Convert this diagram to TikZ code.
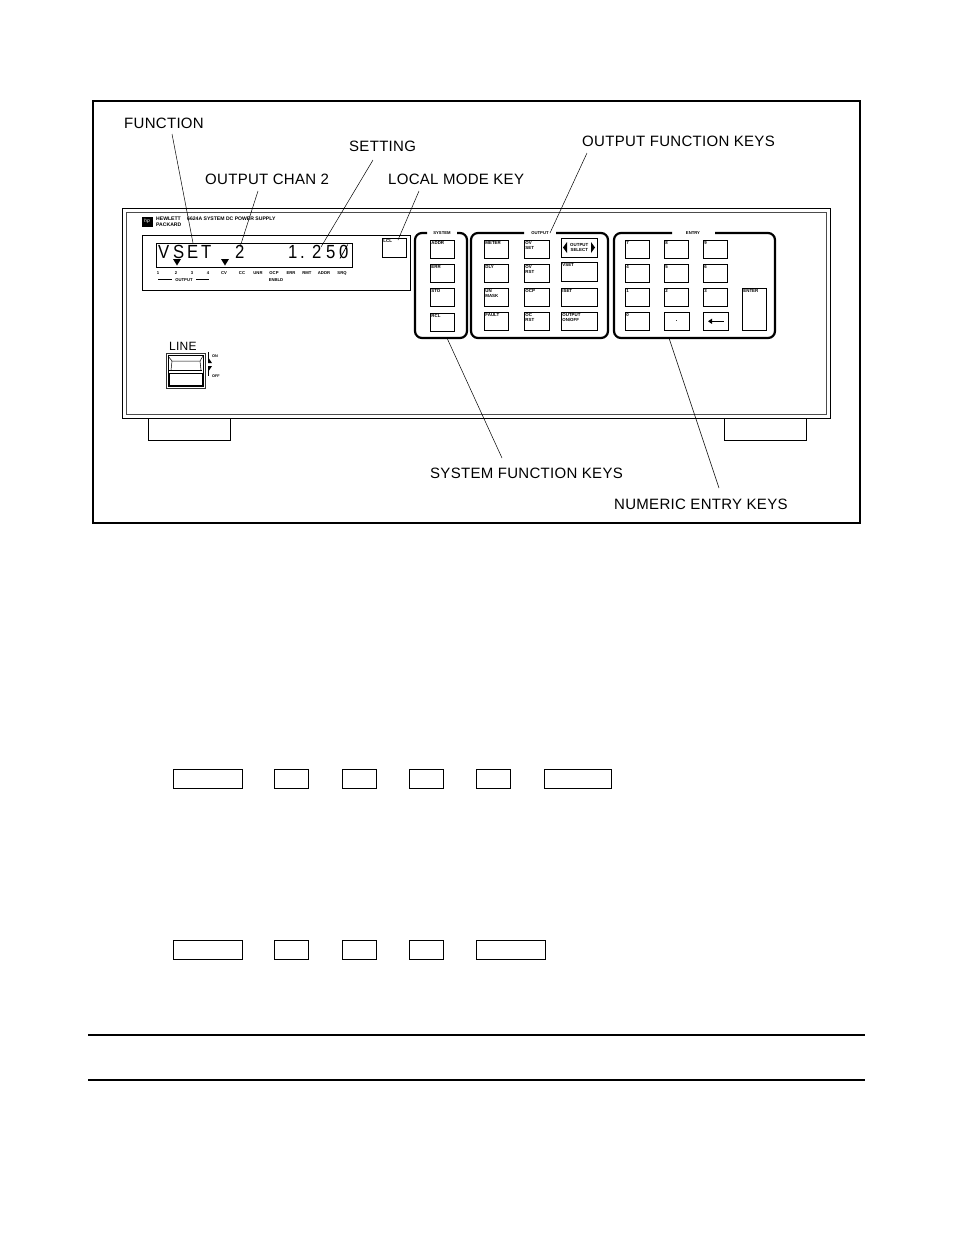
\documentclass[tikz,border=0pt]{standalone}
\usepackage{fontspec}
\setmainfont{Liberation Sans}
\newfontfamily\callfont[LetterSpace=2]{Liberation Sans}
\newfontfamily\dispfont[FakeStretch=0.88]{Liberation Sans}
\usetikzlibrary{arrows.meta}
\tikzset{
 callout/.style={font=\callfont\fontsize{15}{15}\selectfont, anchor=base west, inner sep=0},
 leader/.style={line width=0.5pt},
 pkey/.style={draw, line width=0.55pt, inner sep=0, anchor=north west},
 klbl/.style={font=\bfseries\fontsize{4.4}{4.8}\selectfont, inner sep=1.2pt, anchor=north west, align=left},
 annun/.style={font=\bfseries\fontsize{4.2}{4.2}\selectfont, inner sep=0, anchor=base},
 grp/.style={line width=2.2pt, rounded corners=7pt},
 grplbl/.style={font=\bfseries\fontsize{4.2}{4.2}\selectfont, inner sep=0, anchor=base},
 blank/.style={draw, line width=1.1pt, inner sep=0, anchor=north west, minimum height=19},
 dispch/.style={font=\dispfont\fontsize{19}{19}\selectfont, inner sep=0, anchor=base west},
 small/.style={font=\bfseries\fontsize{5.1}{5.6}\selectfont, inner sep=0, anchor=north west, align=left},
}
\begin{document}
\begin{tikzpicture}[x=1pt,y=-1pt]
\useasboundingbox (0,0) rectangle (954,1235);
% outer frame
\draw[line width=1.8pt] (93,101) rectangle (860,523);

% callout texts
\node[callout] (tfunc) at (124,128) {FUNCTION};
\node[callout] (tchan) at (205,184) {OUTPUT CHAN 2};
\node[callout] (tset) at (349,151) {SETTING};
\node[callout] (tlcl) at (388,184) {LOCAL MODE KEY};
\node[callout] (tofk) at (582,146) {OUTPUT FUNCTION KEYS};
\node[callout] (tsfk) at (430,478) {SYSTEM FUNCTION KEYS};
\node[callout] (tnek) at (614,509) {NUMERIC ENTRY KEYS};

% panel
\draw[line width=0.7pt] (122,208) rectangle (830,418);
\draw[line width=0.45pt, black!70] (126,212) rectangle (826,414);
\draw[line width=0.6pt] (148,418) -- (148,440) -- (230,440) -- (230,418);
\draw[line width=0.6pt] (724,418) -- (724,440) -- (806,440) -- (806,418);

% header
\node[fill=black, minimum width=11, minimum height=10, inner sep=0, text=white, font=\itshape\fontsize{5}{5}\selectfont] (logo) at (147,221.5) {hp};
\node[small] (hpname) at (156,217) {HEWLETT\\PACKARD};
\node[small] (model) at (187,217) {6624A SYSTEM DC POWER SUPPLY};

% display
\draw[line width=0.6pt] (142,235) rectangle (410,290);
\draw[line width=0.5pt] (156,243) rectangle (352,267);
\node[dispch] (dV) at (158,258) {V};
\node[dispch] (dS) at (173,258) {S};
\node[dispch] (dE) at (187,258) {E};
\node[dispch] (dT) at (201,258) {T};
\node[dispch] (dch) at (235,258) {2};
\node[dispch] (d1) at (288,258) {1};
\node[dispch] (dpt) at (300,258) {.};
\node[dispch] (d2) at (312,258) {2};
\node[dispch] (d5) at (326,258) {5};
\node[dispch] (d0) at (339,258) {0};
\draw[line width=0.7pt] ([xshift=1pt]d0.south west) -- ([xshift=-1pt]d0.north east);
\fill (173,259) -- (181,259) -- (177,265.5) -- cycle;
\fill (221,259) -- (229,259) -- (225,265.5) -- cycle;
\foreach \t/\x in {1/158,2/176,3/192,4/208,CV/224,CC/242,UNR/258,OCP/274,ERR/291,RMT/307,ADDR/324,SRQ/342}
  \node[annun] (an\t) at (\x,274) {\t};
\draw[line width=0.4pt] (158,279.5) -- (172,279.5);
\node[annun] (anout) at (184,281) {OUTPUT};
\draw[line width=0.4pt] (196,279.5) -- (209,279.5);
\node[annun] (anenb) at (276,281) {ENBLD};

% LCL key
\node[pkey, minimum width=24, minimum height=19, label={[klbl]north west:LCL}] (klcl) at (382,238) {};

% groups
\draw[grp] (457,233) -| (467,338) -| (415,233) -- (427,233);
\node[grplbl] (lsys) at (442,234.5) {SYSTEM};
\draw[grp] (556,233) -| (608,338) -| (471,233) -- (524,233);
\node[grplbl] (lout) at (540,234.5) {OUTPUT};
\draw[grp] (715,233) -| (775,338) -| (614,233) -- (672,233);
\node[grplbl] (lent) at (693,234.5) {ENTRY};

% system keys
\foreach \n/\y/\t in {kaddr/240/ADDR,kerr/264/ERR,ksto/288/STO,krcl/313/RCL}
  \node[pkey, minimum width=24, minimum height=18, label={[klbl]north west:\t}] (\n) at (430,\y) {};

% output keys
\node[pkey, minimum width=24, minimum height=18, label={[klbl]north west:METER}] (kmeter) at (484,240) {};
\node[pkey, minimum width=25, minimum height=18, label={[klbl]north west:OV\\SET}] (kovset) at (524,240) {};
\node[pkey, minimum width=36, minimum height=19, font=\bfseries\fontsize{4.4}{4.8}\selectfont, align=center] (kosel) at (561,238) {OUTPUT\\SELECT};
\fill (567,242) -- (563,247.5) -- (567,253) -- cycle;
\fill (591,242) -- (595,247.5) -- (591,253) -- cycle;
\node[pkey, minimum width=24, minimum height=18, label={[klbl]north west:DLY}] (kdly) at (484,264) {};
\node[pkey, minimum width=25, minimum height=18, label={[klbl]north west:OV\\RST}] (kovrst) at (524,264) {};
\node[pkey, minimum width=36, minimum height=19, label={[klbl]north west:VSET}] (kvset) at (561,262) {};
\node[pkey, minimum width=24, minimum height=18, label={[klbl]north west:UN\\MASK}] (kunmask) at (484,288) {};
\node[pkey, minimum width=25, minimum height=18, label={[klbl]north west:OCP}] (kocp) at (524,288) {};
\node[pkey, minimum width=36, minimum height=18, label={[klbl]north west:ISET}] (kiset) at (561,288) {};
\node[pkey, minimum width=24, minimum height=18, label={[klbl]north west:FAULT}] (kfault) at (484,312) {};
\node[pkey, minimum width=25, minimum height=18, label={[klbl]north west:OC\\RST}] (kocrst) at (524,312) {};
\node[pkey, minimum width=36, minimum height=18, label={[klbl]north west:OUTPUT\\ON/OFF}] (konoff) at (561,312) {};

% entry keys
\foreach \n/\x/\y/\t in {k7/625/240/7,k8/664/240/8,k9/703/240/9,k4/625/264/4,k5/664/264/5,k6/703/264/6,k1/625/288/1,k2/664/288/2,k3/703/288/3,kzero/625/312/0}
  \node[pkey, minimum width=24, minimum height=18, label={[klbl]north west:\t}] (\n) at (\x,\y) {};
\node[pkey, minimum width=25, minimum height=18, font=\bfseries\fontsize{6}{6}\selectfont] (kdot) at (664,312) {.};
\node[pkey, minimum width=25, minimum height=18] (kback) at (703,312) {};
\draw[line width=1.3pt, -{Triangle[length=4pt,width=5pt]}] ([xshift=-5pt]kback.east) -- ([xshift=5pt]kback.west);
\node[pkey, minimum width=24, minimum height=42, label={[klbl]north west:ENTER}] (kenter) at (742,288) {};

% LINE switch
\node[font=\callfont\fontsize{12}{12}\selectfont, anchor=base west, inner sep=0] (tline) at (169,350) {LINE};
\draw[line width=0.9pt, black!80] (166,353) rectangle (205,388);
\draw[line width=0.4pt] (168,355) rectangle (203,386);
\draw[line width=0.5pt] (168,356) -- (172,361) -- (200,361) -- (203,356);
\draw[line width=0.5pt] (172,361) -- (171,370) (200,361) -- (201,370);
\draw[line width=0.5pt] (169,370.5) -- (202,370.5);
\draw[line width=0.5pt] (169,373) rectangle (202,385);
\draw[line width=0.6pt] (208,352) -- (208,362);
\fill (208,357) -- (212,363) -- (208,363) -- cycle;
\fill (208,366) -- (212,366) -- (208,372) -- cycle;
\draw[line width=0.6pt] (208,366) -- (208,376);
\node[font=\bfseries\fontsize{3.8}{3.8}\selectfont, anchor=west, inner sep=0] (ton) at (212,356) {ON};
\node[font=\bfseries\fontsize{3.8}{3.8}\selectfont, anchor=west, inner sep=0] (toff) at (212,376) {OFF};

% leaders
\coordinate (sfunc) at (172,134); \coordinate (pfunc) at (193,243);
\coordinate (schan) at (258,191); \coordinate (pchan) at (240,247);
\coordinate (sset) at (373,160); \coordinate (pset) at (321,247);
\coordinate (slcl) at (419,191); \coordinate (plcl) at (398,240);
\coordinate (sofk) at (587,153); \coordinate (pofk) at (550,233);
\coordinate (ssfk) at (447,338); \coordinate (psfk) at (502,458);
\coordinate (snek) at (669,338); \coordinate (pnek) at (719,488);
\draw[leader] (sfunc) -- (pfunc);
\draw[leader] (schan) -- (pchan);
\draw[leader] (sset) -- (pset);
\draw[leader] (slcl) -- (plcl);
\draw[leader] (sofk) -- (pofk);
\draw[leader] (ssfk) -- (psfk);
\draw[leader] (snek) -- (pnek);

% lower blank boxes
\node[blank, minimum width=69] (b11) at (173,769) {};
\node[blank, minimum width=34] (b12) at (274,769) {};
\node[blank, minimum width=34] (b13) at (342,769) {};
\node[blank, minimum width=34] (b14) at (409,769) {};
\node[blank, minimum width=34] (b15) at (476,769) {};
\node[blank, minimum width=67] (b16) at (544,769) {};
\node[blank, minimum width=69] (b21) at (173,940) {};
\node[blank, minimum width=34] (b22) at (274,940) {};
\node[blank, minimum width=34] (b23) at (342,940) {};
\node[blank, minimum width=34] (b24) at (409,940) {};
\node[blank, minimum width=69] (b25) at (476,940) {};

% rules
\draw[line width=2.4pt] (88,1035) -- (865,1035);
\draw[line width=1.2pt] (88,1080) -- (865,1080);
\end{tikzpicture}
\end{document}
